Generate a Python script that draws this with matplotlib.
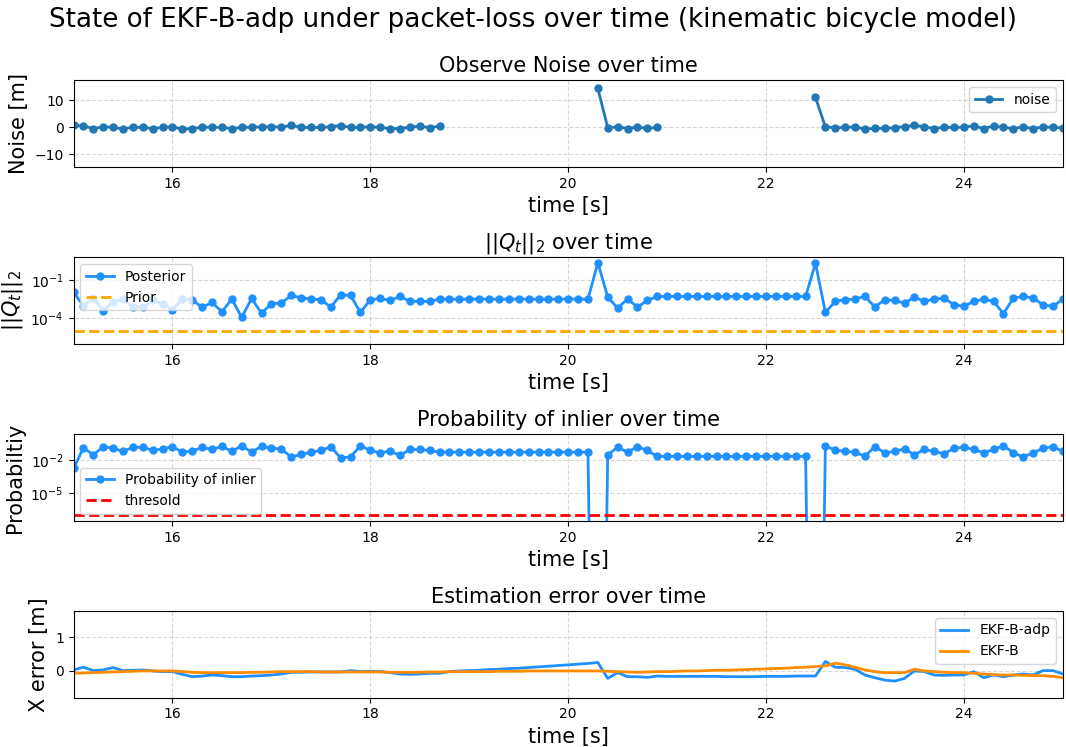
import numpy as np
import matplotlib
matplotlib.use("Agg")
import matplotlib.pyplot as plt

# time axis, 0.1 s steps
t = np.round(np.arange(15.0, 25.01, 0.1), 1)

# measurement noise (NaN where packets were lost)
noise_a = [0.7, 0.4, -0.5, 0.1, 0.0, -0.7, 0.0, -0.1, -0.5, -0.1, 0.1, -0.7, -0.5, 0.0, 0.0,
           -0.1, -0.5, -0.1, 0.0, 0.1, 0.2, 0.0, 0.7, -0.1, -0.1, -0.1, 0.2, 0.6, -0.1, -0.1,
           0.2, -0.1, -0.5, -0.5, 0.0, 0.4, -0.2, 0.4]
noise_b = [14.3, -0.2, 0.1, -0.5, 0.0, -0.4, -0.1]
noise_c = [11.0, 0.1, -0.2, -0.1, 0.1, -0.7, -0.4, -0.4, -0.2, 0.2, 0.7, 0.1, -0.5, 0.0,
           -0.1, 0.0, 0.5, -0.5, 0.4, -0.1, -0.5, 0.1, -0.5, 0.1, -0.1, -0.2]
noise = np.array(noise_a + [np.nan] * 15 + noise_b + [np.nan] * 15 + noise_c)

# log10 of ||Q_t||_2
q_log = [-1.97, -3.03, -2.42, -3.42, -2.76, -2.50, -3.16, -3.13, -2.61, -2.87,
         -3.34, -2.50, -2.55, -3.16, -2.76, -3.50, -2.50, -3.95, -2.45, -3.61,
         -2.87, -2.82, -2.21, -2.40, -2.50, -2.55, -3.13, -2.16, -2.21, -3.55,
         -2.55, -2.45, -2.61, -2.29, -2.68, -2.68, -2.68, -2.50, -2.50, -2.50,
         -2.50, -2.50, -2.50, -2.50, -2.50, -2.50, -2.50, -2.50, -2.50, -2.50,
         -2.50, -2.50, -2.50, 0.39, -2.34, -3.21, -2.50, -3.13, -2.61, -2.29,
         -2.29, -2.29, -2.29, -2.29, -2.29, -2.29, -2.29, -2.29, -2.29, -2.29,
         -2.29, -2.29, -2.29, -2.29, -2.29, 0.34, -3.55, -2.68, -2.55, -2.50,
         -2.29, -3.13, -2.55, -2.61, -2.82, -2.34, -2.68, -2.50, -2.42, -2.95,
         -3.08, -2.68, -2.50, -2.68, -3.66, -2.42, -2.29, -2.42, -2.95, -3.08,
         -2.50]
q_post = 10.0 ** np.array(q_log)
q_prior = 1e-5

# log10 of inlier probability
p_log = [-2.74, -0.88, -1.50, -0.76, -0.91, -1.20, -0.82, -0.82, -1.11, -0.97,
         -0.76, -1.26, -1.17, -0.82, -1.02, -0.73, -1.20, -0.67, -1.26, -0.73,
         -0.91, -0.97, -1.70, -1.47, -1.26, -1.11, -0.76, -1.79, -1.70, -0.67,
         -1.11, -1.32, -1.17, -1.55, -1.02, -1.02, -1.11, -1.26, -1.26, -1.26,
         -1.26, -1.26, -1.26, -1.26, -1.26, -1.26, -1.26, -1.26, -1.26, -1.26,
         -1.26, -1.26, -1.26, -60.0, -1.50, -0.82, -1.26, -0.76, -1.11, -1.64,
         -1.64, -1.64, -1.64, -1.64, -1.64, -1.64, -1.64, -1.64, -1.64, -1.64,
         -1.64, -1.64, -1.64, -1.64, -1.64, -60.0, -0.73, -1.05, -1.20, -1.26,
         -1.64, -0.76, -1.32, -1.20, -0.97, -1.50, -1.02, -1.20, -1.41, -0.91,
         -0.82, -1.02, -1.32, -1.02, -0.67, -1.32, -1.70, -1.32, -0.91, -0.76,
         -1.20]
p_inlier = 10.0 ** np.array(p_log)
p_thresh = 1e-7

# x estimation error [m]
err_adp = [0.03, 0.11, 0.01, 0.03, 0.10, 0.01, 0.02, 0.03, 0.00, -0.02,
           -0.02, -0.10, -0.17, -0.15, -0.12, -0.14, -0.17, -0.17, -0.15, -0.14,
           -0.12, -0.09, -0.04, -0.04, -0.03, -0.03, -0.03, -0.03, 0.01, -0.02,
           -0.01, -0.02, -0.05, -0.09, -0.10, -0.09, -0.07, -0.07, -0.02, 0.00,
           0.01, 0.02, 0.04, 0.05, 0.07, 0.08, 0.10, 0.12, 0.14, 0.16,
           0.18, 0.20, 0.22, 0.25, -0.22, -0.05, -0.17, -0.17, -0.19, -0.15,
           -0.16, -0.16, -0.16, -0.16, -0.16, -0.16, -0.17, -0.17, -0.17, -0.17,
           -0.16, -0.16, -0.16, -0.15, -0.15, -0.15, 0.28, 0.11, 0.10, 0.05,
           -0.12, -0.20, -0.27, -0.30, -0.22, 0.00, -0.02, -0.12, -0.13, -0.12,
           -0.12, -0.02, -0.20, -0.12, -0.17, -0.12, -0.09, -0.12, 0.01, 0.01,
           -0.09]
err_b = [-0.07, -0.06, -0.05, -0.04, -0.03, -0.02, -0.01, 0.00, 0.00, 0.00,
         0.00, -0.02, -0.04, -0.05, -0.05, -0.05, -0.05, -0.05, -0.04, -0.04,
         -0.03, -0.02, -0.02, -0.02, -0.02, -0.03, -0.03, -0.03, -0.03, -0.03,
         -0.03, -0.03, -0.04, -0.04, -0.04, -0.04, -0.03, -0.03, -0.02, -0.02,
         -0.02, -0.02, -0.02, -0.01, -0.01, -0.01, 0.00, 0.00, 0.00, 0.00,
         0.00, 0.00, 0.00, 0.00, -0.01, -0.02, -0.03, -0.04, -0.03, -0.02,
         -0.02, -0.01, 0.00, 0.00, 0.01, 0.02, 0.02, 0.03, 0.04, 0.05,
         0.06, 0.07, 0.08, 0.10, 0.11, 0.13, 0.15, 0.23, 0.18, 0.11,
         0.03, -0.02, -0.05, -0.05, -0.05, 0.05, 0.00, -0.02, -0.04, -0.05,
         -0.05, -0.07, -0.09, -0.11, -0.12, -0.12, -0.13, -0.14, -0.14, -0.16,
         -0.20]

fig, axes = plt.subplots(4, 1, figsize=(10.66, 7.47), dpi=100)
fig.subplots_adjust(left=0.069, right=0.997, top=0.8925, bottom=0.066, hspace=1.04)
fig.suptitle("State of EKF-B-adp under packet-loss over time (kinematic bicycle model)",
             fontsize=18.8, y=0.99)

ax = axes[0]
ax.plot(t, noise, "o-", color="#1f77b4", lw=2, ms=5, label="noise")
ax.set_title("Observe Noise over time", fontsize=15)
ax.set_ylabel("Noise [m]", fontsize=15)
ax.set_ylim(-14.7, 17.3)
ax.legend(loc="upper right")

ax = axes[1]
ax.plot(t, q_post, "o-", color="dodgerblue", lw=2, ms=5, label="Posterior")
ax.axhline(q_prior, color="orange", ls="--", lw=2, label="Prior")
ax.set_yscale("log")
ax.set_ylim(10 ** -6.05, 10 ** 0.82)
ax.set_title(r"$||Q_t||_2$ over time", fontsize=15)
ax.set_ylabel(r"$||Q_t||_2$", fontsize=15)
ax.legend(loc="upper left")

ax = axes[2]
ax.plot(t, p_inlier, "o-", color="dodgerblue", lw=2, ms=5, label="Probability of inlier")
ax.axhline(p_thresh, color="red", ls="--", lw=2, label="thresold")
ax.set_yscale("log")
ax.set_ylim(10 ** -7.5, 10 ** 0.38)
ax.set_title("Probability of inlier over time", fontsize=15)
ax.set_ylabel("Probabiltiy", fontsize=15)
ax.legend(loc="lower left")

ax = axes[3]
ax.plot(t, err_adp, color="dodgerblue", lw=2, label="EKF-B-adp")
ax.plot(t, err_b, color="darkorange", lw=2, label="EKF-B")
ax.set_ylim(-0.79, 1.77)
ax.set_title("Estimation error over time", fontsize=15)
ax.set_ylabel("X error [m]", fontsize=15)
ax.legend(loc="upper right")

for ax in axes:
    ax.set_xlim(15, 25)
    ax.set_xlabel("time [s]", fontsize=15)
    ax.grid(True, ls="--", alpha=0.5)

plt.savefig("out.png")
